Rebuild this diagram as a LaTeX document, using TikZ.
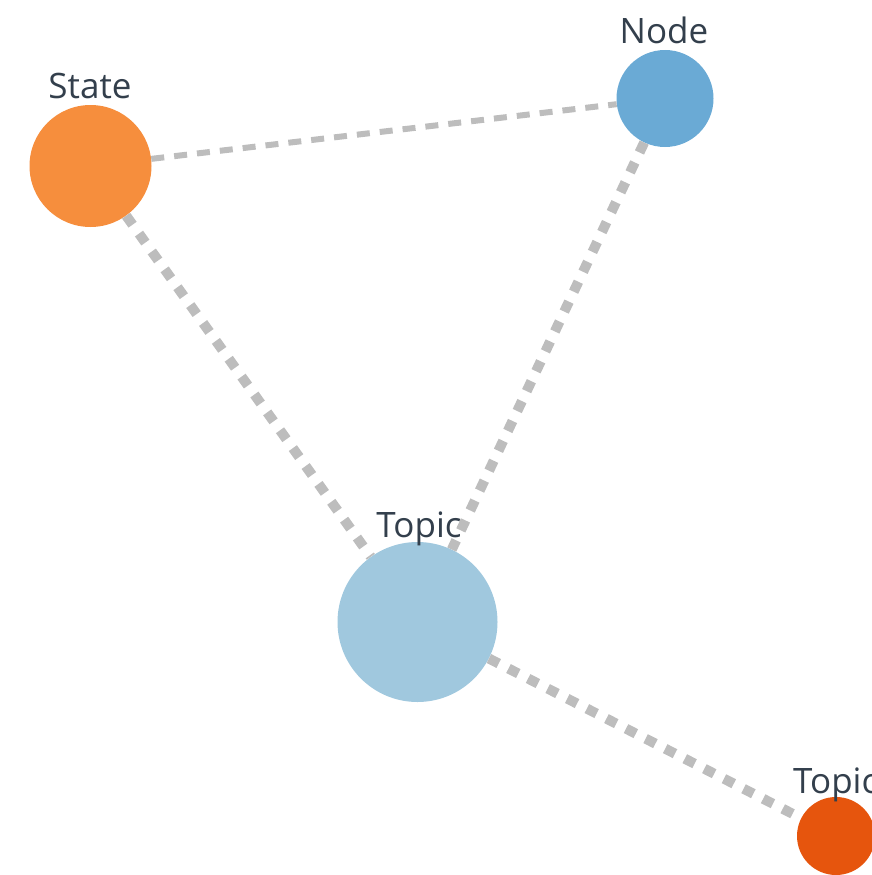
\documentclass[tikz,border=0pt]{standalone}
\usepackage{fontspec}
\setmainfont{Open Sans}
\definecolor{stateorange}{HTML}{F68E3D}
\definecolor{nodeblue}{HTML}{6AAAD5}
\definecolor{topicblue}{HTML}{A0C8DE}
\definecolor{topicred}{HTML}{E6550D}
\definecolor{edgegray}{HTML}{BDBDBD}
\definecolor{labelink}{HTML}{333F4C}
\begin{document}
\begin{tikzpicture}[x=1pt,y=-1pt,
  vertex/.style={circle,inner sep=0pt,draw=none},
  tag/.style={text=labelink,font=\fontsize{35}{35}\selectfont,anchor=base,inner sep=0pt},
  thinlink/.style={draw=edgegray,line width=6pt,dash pattern=on 13pt off 10pt},
  thicklink/.style={draw=edgegray,line width=10pt,dash pattern=on 11pt off 11pt}]
\useasboundingbox (0,0) rectangle (872,875);
\clip (0,0) rectangle (872,875);
% circles
\node[vertex,fill=stateorange,minimum size=122pt] (state) at (90.5,166) {};
\node[vertex,fill=nodeblue,minimum size=97pt] (node) at (665,98.5) {};
\node[vertex,fill=topicblue,minimum size=160pt] (topic) at (417.5,622) {};
\node[vertex,fill=topicred,minimum size=78pt] (topic2) at (836,836) {};
% dashed links between the circles
\draw[thinlink] (state) -- (node);
\draw[thicklink] (state) -- (topic);
\draw[thicklink] (node) -- (topic);
\draw[thicklink] (topic) -- (topic2);
% labels above the circles
\node[tag] (lstate) at (90,99) {State};
\node[tag] (lnode) at (664,44) {Node};
\node[tag] (ltopic) at (419,537) {Topic};
\node[tag,anchor=base west] (ltopic2) at (793,793) {Topic};
\end{tikzpicture}
\end{document}
